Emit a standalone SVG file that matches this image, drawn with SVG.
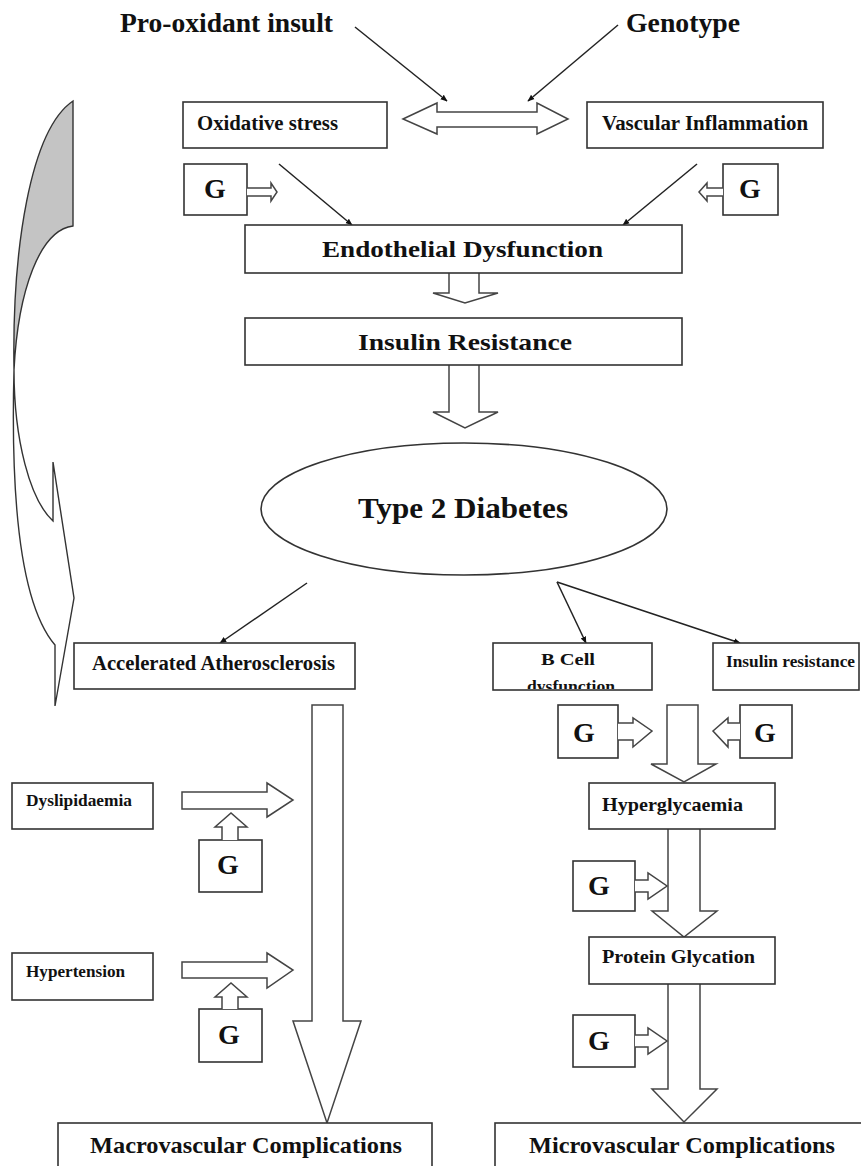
<svg xmlns="http://www.w3.org/2000/svg" width="861" height="1166" viewBox="0 0 861 1166">
<defs>
<marker id="ah" viewBox="0 0 10 10" refX="9" refY="5" markerWidth="7" markerHeight="7" markerUnits="userSpaceOnUse" orient="auto">
<path d="M0,1 L10,5 L0,9 Z" fill="#111"/>
</marker>
<clipPath id="bcell"><rect x="494" y="644" width="157" height="45"/></clipPath>
<style>
.box{fill:#fff;stroke:#333;stroke-width:1.6}
.blk{fill:#fff;stroke:#444;stroke-width:1.5;stroke-linejoin:miter}
.ln{stroke:#222;stroke-width:1.5;fill:none;marker-end:url(#ah)}
.t{font-family:"Liberation Serif","Times New Roman",serif;font-weight:bold;fill:#111}
.g{font-family:"Liberation Serif","Times New Roman",serif;font-weight:bold;fill:#111;font-size:28px;text-anchor:middle}
</style>
</defs>
<rect x="0" y="0" width="861" height="1166" fill="#fff"/>

<g id="curved-arrow">
<path d="M14,370 C14,440 30,500 53,521 L53,462 L74,598 L55,706 L55,645 C25,610 10,520 14,370 Z" fill="#fff" stroke="#333" stroke-width="1.4"/>
<path d="M73,101 L73,226 C40,230 18,290 14,370 C12,250 30,130 73,101 Z" fill="#c4c4c4" stroke="#333" stroke-width="1.4"/>
</g>

<g id="connectors">
<line class="ln" x1="355" y1="27" x2="447" y2="101"/>
<line class="ln" x1="618" y1="25" x2="528" y2="101"/>
<line class="ln" x1="279" y1="164" x2="352" y2="225"/>
<line class="ln" x1="697" y1="164" x2="623" y2="225"/>
<line class="ln" x1="307" y1="583" x2="220" y2="643"/>
<line class="ln" x1="557" y1="582" x2="586" y2="643"/>
<line class="ln" x1="557" y1="582" x2="740" y2="643"/>
<path class="blk" d="M403,119 L437,103 L437,112 L537,112 L537,103 L568,119 L537,134 L537,127 L437,127 L437,134 Z"/>
<path class="blk" d="M449,273 L449,293 L433,293 L465,303 L498,293 L479,293 L479,273"/>
<path class="blk" d="M449,365 L449,412 L433,412 L465,428 L498,412 L479,412 L479,365"/>
<path class="blk" d="M312,705 L343,705 L343,1021 L361,1021 L327,1123 L293,1021 L312,1021 Z"/>
<path class="blk" d="M182,792 L267,792 L267,783 L293,800 L267,817 L267,809 L182,809 Z"/>
<path class="blk" d="M182,962 L267,962 L267,953 L293,970 L267,988 L267,978 L182,978 Z"/>
<path class="blk" d="M667,705 L698,705 L698,764 L716,764 L684,782 L651,764 L667,764 Z"/>
<path class="blk" d="M668,829 L668,911 L652,911 L684,937 L717,911 L700,911 L700,829"/>
<path class="blk" d="M668,984 L668,1089 L652,1089 L684,1122 L717,1089 L700,1089 L700,984"/>
</g>

<g id="pro-oxidant"><text class="t" x="120" y="32" font-size="27" textLength="213" lengthAdjust="spacingAndGlyphs">Pro-oxidant insult</text></g>
<g id="genotype"><text class="t" x="626" y="32" font-size="27" textLength="114" lengthAdjust="spacingAndGlyphs">Genotype</text></g>

<g id="oxidative-stress">
<rect class="box" x="183" y="102" width="204" height="46"/>
<text class="t" x="197" y="130" font-size="20" textLength="141" lengthAdjust="spacingAndGlyphs">Oxidative stress</text>
</g>
<g id="vascular-inflammation">
<rect class="box" x="587" y="102" width="236" height="46"/>
<text class="t" x="602" y="130" font-size="20" textLength="206" lengthAdjust="spacingAndGlyphs">Vascular Inflammation</text>
</g>

<g id="g-top-left">
<rect class="box" x="184" y="164" width="63" height="51"/>
<path class="blk" d="M247,188 L271,188 L271,183 L277,192 L271,201 L271,196 L247,196" stroke-width="1.3"/>
<text class="g" x="215" y="198" font-size="24">G</text>
</g>
<g id="g-top-right">
<rect class="box" x="723" y="164" width="55" height="51"/>
<path class="blk" d="M723,188 L707,188 L707,183 L699,192 L707,201 L707,196 L723,196" stroke-width="1.3"/>
<text class="g" x="750" y="198" font-size="24">G</text>
</g>

<g id="endothelial-dysfunction">
<rect class="box" x="245" y="225" width="437" height="48"/>
<text class="t" x="322" y="257" font-size="24" textLength="281" lengthAdjust="spacingAndGlyphs">Endothelial Dysfunction</text>
</g>
<g id="insulin-resistance">
<rect class="box" x="245" y="318" width="437" height="47"/>
<text class="t" x="358" y="350" font-size="24" textLength="214" lengthAdjust="spacingAndGlyphs">Insulin Resistance</text>
</g>
<g id="type2-diabetes">
<ellipse cx="464" cy="509" rx="203" ry="66" fill="#fff" stroke="#333" stroke-width="1.6"/>
<text class="t" x="358" y="518" font-size="30" textLength="210" lengthAdjust="spacingAndGlyphs">Type 2 Diabetes</text>
</g>

<g id="accelerated-atherosclerosis">
<rect class="box" x="74" y="643" width="281" height="46"/>
<text class="t" x="92" y="670" font-size="20" textLength="243" lengthAdjust="spacingAndGlyphs">Accelerated Atherosclerosis</text>
</g>
<g id="b-cell-dysfunction">
<rect class="box" x="493" y="643" width="159" height="47"/>
<g clip-path="url(#bcell)">
<text class="t" x="541" y="665" font-size="16" textLength="54" lengthAdjust="spacingAndGlyphs">B Cell</text>
<text class="t" x="527" y="692" font-size="16" textLength="88" lengthAdjust="spacingAndGlyphs">dysfunction</text>
</g>
</g>
<g id="insulin-resistance-2">
<rect class="box" x="713" y="643" width="146" height="47"/>
<text class="t" x="726" y="667" font-size="17" textLength="129" lengthAdjust="spacingAndGlyphs">Insulin resistance</text>
</g>

<g id="g-right-1">
<rect class="box" x="558" y="705" width="60" height="53"/>
<path class="blk" d="M618,723 L633,723 L633,718 L652,731 L633,747 L633,740 L618,740"/>
<text class="g" x="584" y="742">G</text>
</g>
<g id="g-right-2">
<rect class="box" x="740" y="705" width="52" height="53"/>
<path class="blk" d="M740,723 L728,723 L728,718 L713,731 L728,747 L728,740 L740,740"/>
<text class="g" x="765" y="742">G</text>
</g>

<g id="hyperglycaemia">
<rect class="box" x="589" y="783" width="186" height="46"/>
<text class="t" x="602" y="811" font-size="19" textLength="141" lengthAdjust="spacingAndGlyphs">Hyperglycaemia</text>
</g>
<g id="g-right-3">
<rect class="box" x="573" y="861" width="62" height="50"/>
<path class="blk" d="M635,880 L648,880 L648,873 L667,886 L648,899 L648,892 L635,892"/>
<text class="g" x="599" y="895">G</text>
</g>
<g id="protein-glycation">
<rect class="box" x="589" y="937" width="186" height="47"/>
<text class="t" x="602" y="963" font-size="19" textLength="153" lengthAdjust="spacingAndGlyphs">Protein Glycation</text>
</g>
<g id="g-right-4">
<rect class="box" x="573" y="1015" width="62" height="52"/>
<path class="blk" d="M635,1035 L648,1035 L648,1028 L667,1041 L648,1054 L648,1047 L635,1047"/>
<text class="g" x="599" y="1050">G</text>
</g>

<g id="dyslipidaemia">
<rect class="box" x="12" y="783" width="141" height="46"/>
<text class="t" x="26" y="806" font-size="16" textLength="106" lengthAdjust="spacingAndGlyphs">Dyslipidaemia</text>
</g>
<g id="g-left-1">
<rect class="box" x="199" y="840" width="63" height="52"/>
<path class="blk" d="M222,840 L222,827 L215,827 L231,813 L247,827 L238,827 L238,840"/>
<text class="g" x="228" y="874">G</text>
</g>
<g id="hypertension">
<rect class="box" x="12" y="953" width="141" height="47"/>
<text class="t" x="26" y="977" font-size="16" textLength="99" lengthAdjust="spacingAndGlyphs">Hypertension</text>
</g>
<g id="g-left-2">
<rect class="box" x="199" y="1009" width="63" height="53"/>
<path class="blk" d="M222,1009 L222,997 L215,997 L231,983 L247,997 L238,997 L238,1009"/>
<text class="g" x="229" y="1044">G</text>
</g>

<g id="macrovascular-complications">
<rect class="box" x="58" y="1123" width="374" height="60"/>
<text class="t" x="90" y="1153" font-size="24" textLength="312" lengthAdjust="spacingAndGlyphs">Macrovascular Complications</text>
</g>
<g id="microvascular-complications">
<rect class="box" x="495" y="1123" width="380" height="60"/>
<text class="t" x="529" y="1153" font-size="24" textLength="306" lengthAdjust="spacingAndGlyphs">Microvascular Complications</text>
</g>
</svg>
